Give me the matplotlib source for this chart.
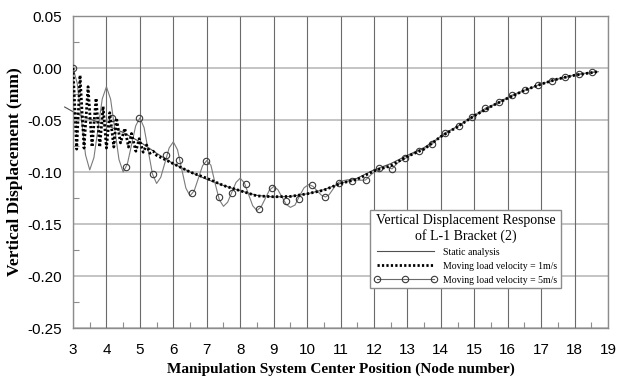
import matplotlib
matplotlib.use("Agg")
import matplotlib.pyplot as plt
from matplotlib.lines import Line2D
from matplotlib.ticker import MultipleLocator, FormatStrFormatter

plt.rcParams['axes.unicode_minus'] = False

# ---- data ----
static_x = [2.75, 3.0, 3.25, 3.5, 4.0, 4.5, 5.0, 5.5, 6.0, 6.5, 7.0, 7.5, 8.0, 8.5, 9.0,
            9.5, 10.0, 10.5, 11.0, 11.5, 12.0, 12.5, 13.0, 13.5, 14.0, 14.5, 15.0, 15.5,
            16.0, 16.5, 17.0, 17.5, 18.0, 18.5, 18.7]
static_y = [-0.0375, -0.042, -0.046, -0.049, -0.055, -0.062, -0.071, -0.082, -0.092, -0.100,
            -0.107, -0.113, -0.118, -0.1225, -0.124, -0.1235, -0.121, -0.117, -0.111, -0.106,
            -0.098, -0.092, -0.084, -0.0765, -0.066, -0.056, -0.046, -0.037, -0.029, -0.0215,
            -0.0155, -0.0105, -0.0068, -0.0045, -0.0035]

v1_x = [3.00, 3.11, 3.21, 3.33, 3.45, 3.57, 3.69, 3.80, 3.90, 4.00, 4.10, 4.22, 4.30, 4.42,
        4.55, 4.66, 4.75, 4.88, 4.98, 5.10, 5.20, 5.30, 5.40, 5.50, 6.0, 6.5, 7.0, 7.5, 8.0,
        8.5, 9.0, 9.5, 10.0, 10.5, 11.0, 11.5, 12.0, 12.5, 13.0, 13.5, 14.0, 14.5, 15.0,
        15.5, 16.0, 16.5, 17.0, 17.5, 18.0, 18.5, 18.7]
v1_y = [0.000, -0.078, -0.007, -0.077, -0.018, -0.076, -0.029, -0.076, -0.037, -0.077,
        -0.043, -0.076, -0.048, -0.072, -0.058, -0.076, -0.063, -0.080, -0.068, -0.081,
        -0.074, -0.082, -0.080, -0.084, -0.092, -0.100, -0.106, -0.113, -0.118, -0.123,
        -0.1238, -0.1235, -0.121, -0.1175, -0.111, -0.107, -0.099, -0.094, -0.085, -0.078,
        -0.066, -0.0565, -0.046, -0.037, -0.029, -0.0215, -0.0155, -0.0105, -0.007,
        -0.0045, -0.0035]

v5_x = [3.0, 3.125, 3.25, 3.375, 3.5, 3.625, 3.75, 3.875, 4.0, 4.125, 4.25, 4.375, 4.5,
        4.625, 4.75, 4.875, 5.0, 5.125, 5.25, 5.375, 5.5, 5.625, 5.75, 5.875, 6.0, 6.125,
        6.25, 6.375, 6.5, 6.625, 6.75, 6.875, 7.0, 7.125, 7.25, 7.375, 7.5, 7.625, 7.75,
        7.875, 8.0, 8.125, 8.25, 8.375, 8.5, 8.625, 8.75, 8.875, 9.0, 9.125, 9.25, 9.375,
        9.5, 9.64, 9.775, 9.91, 10.05, 10.175, 10.3, 10.425, 10.55, 10.66, 10.775, 10.89,
        11.0, 11.2, 11.4, 11.6, 11.75, 11.9, 12.14, 12.35, 12.54, 12.75, 12.94, 13.14,
        13.34, 13.54, 13.74, 13.94, 14.13, 14.53, 14.93, 15.33, 15.73, 16.13, 16.52,
        16.92, 17.32, 17.72, 18.12, 18.51, 18.7]
v5_y = [0.0, -0.0144, -0.049, -0.0836, -0.098, -0.0863, -0.058, -0.0297, -0.018, -0.030,
        -0.059, -0.088, -0.100, -0.0924, -0.074, -0.0556, -0.048, -0.0572, -0.0795, -0.1018,
        -0.111, -0.1051, -0.091, -0.0769, -0.071, -0.0786, -0.097, -0.1154, -0.123, -0.118,
        -0.106, -0.094, -0.089, -0.0936, -0.111, -0.1266, -0.133, -0.129, -0.1195, -0.110,
        -0.106, -0.1105, -0.1215, -0.1325, -0.137, -0.1336, -0.1255, -0.1174, -0.114,
        -0.1169, -0.124, -0.1311, -0.134, -0.1318, -0.123, -0.1152, -0.112, -0.1138, -0.118,
        -0.1222, -0.124, -0.1218, -0.1165, -0.1112, -0.109, -0.1075, -0.1075, -0.108,
        -0.1077, -0.103, -0.0965, -0.095, -0.097, -0.090, -0.0869, -0.083, -0.0795, -0.077,
        -0.0731, -0.067, -0.0622, -0.0558, -0.0468, -0.0388, -0.033, -0.026, -0.0212,
        -0.0163, -0.0122, -0.009, -0.0058, -0.0042, -0.0035]

v5_mark_x = [3.0, 4.18, 4.58, 4.98, 5.38, 5.78, 6.17, 6.57, 6.97, 7.37, 7.77, 8.16, 8.56,
             8.96, 9.36, 9.76, 10.16, 10.55, 10.95, 11.35, 11.75, 12.14, 12.54, 12.94,
             13.34, 13.74, 14.13, 14.53, 14.93, 15.33, 15.73, 16.13, 16.52, 16.92, 17.32,
             17.72, 18.12, 18.51]
v5_mark_y = [0.0, -0.048, -0.0955, -0.048, -0.102, -0.0837, -0.0885, -0.1205, -0.089,
             -0.1245, -0.120, -0.112, -0.1357, -0.1157, -0.1276, -0.1263, -0.1125, -0.1238,
             -0.1103, -0.1087, -0.1077, -0.0965, -0.0975, -0.0869, -0.0795, -0.0731,
             -0.0622, -0.0558, -0.0468, -0.0388, -0.033, -0.026, -0.0212, -0.0163, -0.0122,
             -0.009, -0.0058, -0.0042]

x_ticks = list(range(3, 20))
y_ticks = [0.05, 0.00, -0.05, -0.10, -0.15, -0.20, -0.25]

legend_title = "Vertical Displacement Response\nof L-1 Bracket (2)"
labels = ["Static analysis", "Moving load velocity = 1m/s", "Moving load velocity = 5m/s"]

# ---- figure ----
W, H = 626, 382
fig = plt.figure(figsize=(W / 100, H / 100), dpi=100)
ax = fig.add_axes([73 / W, 1 - 328 / H, (608 - 73) / W, (328 - 16) / H])

ax.set_xlim(3, 19)
ax.set_ylim(-0.25, 0.05)
ax.set_xticks(x_ticks)
ax.set_yticks(y_ticks)
ax.xaxis.set_minor_locator(MultipleLocator(0.5))
ax.yaxis.set_minor_locator(MultipleLocator(0.025))
ax.yaxis.set_major_formatter(FormatStrFormatter('%.2f'))

for x in x_ticks:
    ax.axvline(x, color='#6a6a6a', lw=0.8, zorder=0.5)
for y in y_ticks:
    ax.axhline(y, color='#b4b4b4', lw=1.1, zorder=0.4)

for s in ax.spines.values():
    s.set_color('#8c8c8c')
    s.set_linewidth(1.0)

ax.tick_params(which='both', direction='in', colors='#8c8c8c', top=False, right=False)
ax.tick_params(which='major', length=0, labelcolor='black')
ax.tick_params(axis='y', which='major', pad=8)
ax.tick_params(axis='x', which='major', pad=11)
ax.tick_params(which='minor', length=4, width=0.8)
for lab in ax.get_xticklabels() + ax.get_yticklabels():
    lab.set_fontfamily('Liberation Sans')
    lab.set_fontsize(11)

ax.plot(static_x, static_y, color='#505050', lw=0.8, clip_on=False, zorder=2)
ax.plot(v5_x, v5_y, color='#7a7a7a', lw=0.8, zorder=3)
ax.plot(v5_mark_x, v5_mark_y, ls='none', marker='o', ms=4.6, mfc='none',
        mec='#3a3a3a', mew=0.8, zorder=4)
ax.plot(v1_x, v1_y, color='black', lw=2.0, ls=(0, (0.8, 0.8)), zorder=5)

ax.set_xlabel("Manipulation System Center Position (Node number)",
              fontfamily='Liberation Serif', fontweight='bold', fontsize=11)
ax.set_ylabel("Vertical Displacement (mm)",
              fontfamily='Liberation Serif', fontweight='bold', fontsize=12.5)
ax.xaxis.set_label_coords(0.5, -0.112)
ax.yaxis.set_label_coords(-0.093, 0.5)

h_static = Line2D([], [], color='#505050', lw=0.8)
h_v1 = Line2D([], [], color='black', lw=2.0, ls=(0, (0.8, 0.8)))
h_v5 = Line2D([], [], color='#6a6a6a', lw=0.8, marker='o', ms=4.6, mfc='none',
              mec='#3a3a3a', mew=0.8)
leg = ax.legend([h_static, h_v1, h_v5], labels, title=legend_title,
                loc='upper left', bbox_to_anchor=(370 / W, 1 - 210 / H),
                bbox_transform=fig.transFigure, borderaxespad=0,
                prop={'family': 'Liberation Serif', 'size': 7},
                title_fontproperties={'family': 'Liberation Serif', 'size': 10},
                fancybox=False, framealpha=1, edgecolor='#8c8c8c',
                handlelength=6.5, handletextpad=0.6, numpoints=3,
                labelspacing=0.5, borderpad=0.4)
leg.get_title().set_multialignment('center')
leg.get_frame().set_linewidth(1.0)
leg.set_zorder(10)

fig.savefig("out.png", dpi=100)
